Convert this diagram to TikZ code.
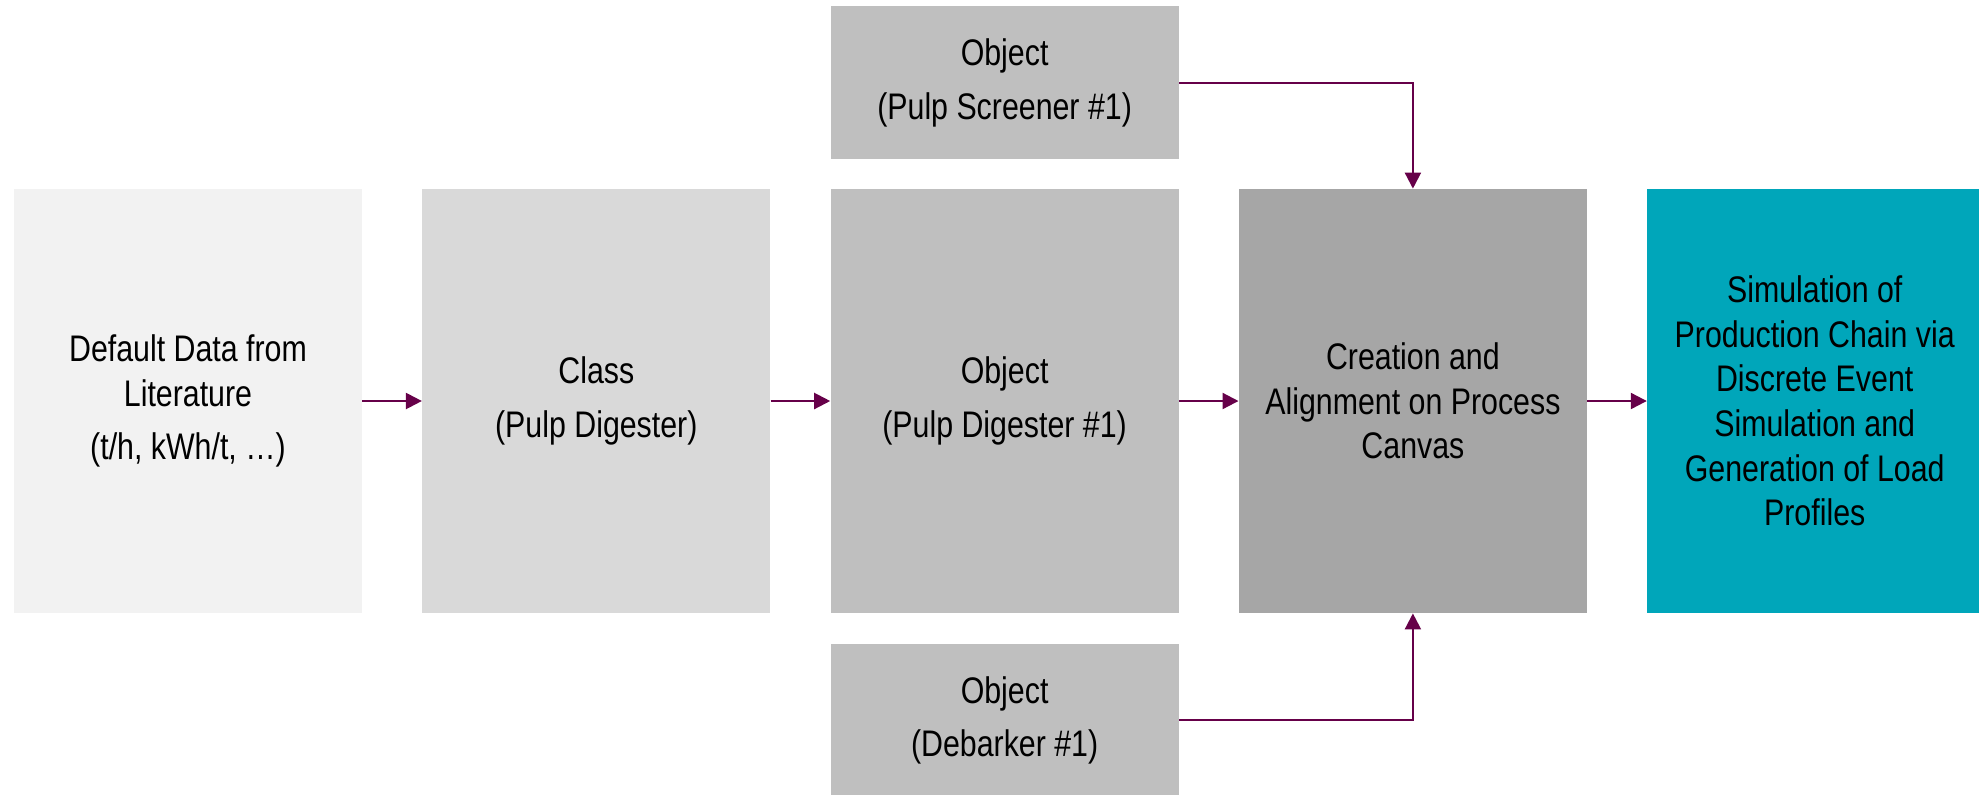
\documentclass[tikz,border=0pt]{standalone}
\usepackage{fontspec}
\setmainfont[FakeStretch=0.82]{Liberation Sans}
\usepackage[svgnames]{xcolor}
\usetikzlibrary{positioning}
\usetikzlibrary{arrows.meta}
\definecolor{boxA}{HTML}{F2F2F2}
\definecolor{boxB}{HTML}{D9D9D9}
\definecolor{boxC}{HTML}{BFBFBF}
\definecolor{boxD}{HTML}{A6A6A6}
\definecolor{mteal}{HTML}{00A6BA}
\definecolor{mpurple}{HTML}{660049}
\tikzset{blk/.style = {fill=#1, inner sep=0pt, align=center,
                       minimum width=174pt, minimum height=212pt,
                       font=\fontsize{18.5pt}{22.3pt}\selectfont}}
\tikzset{smallblk/.style = {blk=boxC, minimum height=76.5pt}}
\tikzset{flow/.style = {draw=mpurple, line width=1.1pt,
                        -{Triangle[length=8pt,width=8pt]}}}

\begin{document}
\begin{tikzpicture}[node distance=29.75pt]
  \useasboundingbox (0,0) rectangle (989.5pt,-397pt);
  \node[blk=boxA] (data) at (94pt,-200.5pt)
    {Default Data from\\Literature\\[4.5pt](t/h, kWh/t, \dots)};
  \node[blk=boxB, right=of data] (class) {Class\\[4.5pt](Pulp Digester)};
  \node[blk=boxC, right=of class] (digester) {Object\\[4.5pt](Pulp Digester \#1)};
  \node[blk=boxD, right=of digester] (canvas)
    {Creation and\\Alignment on Process\\Canvas};
  \node[blk=mteal, minimum width=167.5pt, right=of canvas] (sim)
    {Simulation of\\Production Chain via\\Discrete Event\\Simulation and\\Generation of Load\\Profiles};
  \node[smallblk, above=14.5pt of digester] (screener) {Object\\[4.5pt](Pulp Screener \#1)};
  \node[smallblk, below=15pt of digester] (debarker) {Object\\[4.5pt](Debarker \#1)};
  % connectors
  \draw[flow] (data) -- (class);
  \draw[flow] (class) -- (digester);
  \draw[flow] (digester) -- (canvas);
  \draw[flow] (canvas) -- (sim);
  \draw[flow] (screener.east) -| (canvas.north);
  \draw[flow] (debarker.east) -| (canvas.south);
\end{tikzpicture}
\end{document}
